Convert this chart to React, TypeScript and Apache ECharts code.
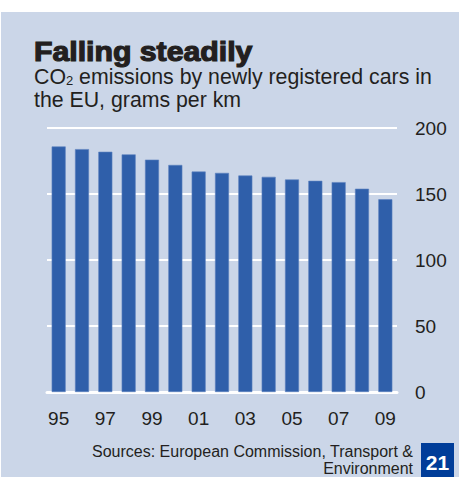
import React, { useEffect, useRef } from "react";
import * as echarts from "echarts";

const years = ["95", "96", "97", "98", "99", "00", "01", "02", "03", "04", "05", "06", "07", "08", "09"];
const emissions = [186, 184, 182, 180, 176, 172, 167, 166, 164, 163, 161, 160, 159, 154, 146];
const yTicks = { min: 0, max: 200, interval: 50 };

const FONT = "Liberation Sans, Arial, sans-serif";
const TEXT = "#231f20";

export default function App() {
  const ref = useRef<HTMLDivElement>(null);
  useEffect(() => {
    document.body.style.margin = "0";
    const chart = echarts.init(ref.current!, null, { renderer: "svg" });
    chart.setOption({
      animation: false,
      backgroundColor: "#ffffff",
      graphic: [
        { type: "rect", z: -10, shape: { x: 1, y: 12, width: 458, height: 465 }, style: { fill: "#cbd6e8" } },
        {
          type: "text", x: 34, y: 37, scaleX: 1.08,
          style: { text: "Falling steadily", font: `bold 28px ${FONT}`, fill: TEXT, stroke: TEXT, lineWidth: 1.2, verticalAlign: "top" },
        },
        {
          type: "text", x: 34, y: 65,
          style: {
            text: "{n|CO}{s|2}{n| emissions by newly registered cars in}",
            rich: {
              n: { fontSize: 21.3, fontFamily: FONT, fill: TEXT, lineHeight: 22, verticalAlign: "bottom" },
              s: { fontSize: 13, fontFamily: FONT, fill: TEXT, lineHeight: 14, verticalAlign: "bottom" },
            },
          },
        },
        {
          type: "text", x: 34, y: 89,
          style: { text: "the EU, grams per km", font: `21.3px ${FONT}`, fill: TEXT, verticalAlign: "top" },
        },
        {
          type: "text", x: 413, y: 442.5,
          style: {
            text: "Sources: European Commission, Transport &\nEnvironment",
            font: `16px ${FONT}`, fill: TEXT, align: "right", verticalAlign: "top", lineHeight: 17,
          },
        },
        { type: "rect", shape: { x: 421, y: 443, width: 33, height: 34 }, style: { fill: "#003d99" } },
        {
          type: "text", x: 437.5, y: 462,
          style: { text: "21", font: `bold 21px ${FONT}`, fill: "#ffffff", align: "center", verticalAlign: "middle" },
        },
      ],
      grid: { left: 47, right: 62, top: 128, bottom: 85, containLabel: false },
      xAxis: {
        type: "category",
        data: years,
        axisLine: { show: true, lineStyle: { color: "#ffffff", width: 3 } },
        axisTick: { show: false },
        axisLabel: { interval: 1, fontSize: 19, fontFamily: FONT, color: TEXT, margin: 17 },
      },
      yAxis: {
        type: "value",
        position: "right",
        min: yTicks.min,
        max: yTicks.max,
        interval: yTicks.interval,
        axisLine: { show: false },
        axisTick: { show: false },
        splitLine: { lineStyle: { color: "#ffffff", width: 2 } },
        axisLabel: { fontSize: 19, fontFamily: FONT, color: TEXT, align: "left", margin: 18 },
      },
      series: [
        {
          type: "bar",
          data: emissions,
          barWidth: "60%",
          itemStyle: { color: "#2f5faa", borderColor: "#5c82c0", borderWidth: 0.6 },
        },
      ],
    });
    return () => chart.dispose();
  }, []);
  return <div ref={ref} style={{ width: 459, height: 477 }} />;
}
